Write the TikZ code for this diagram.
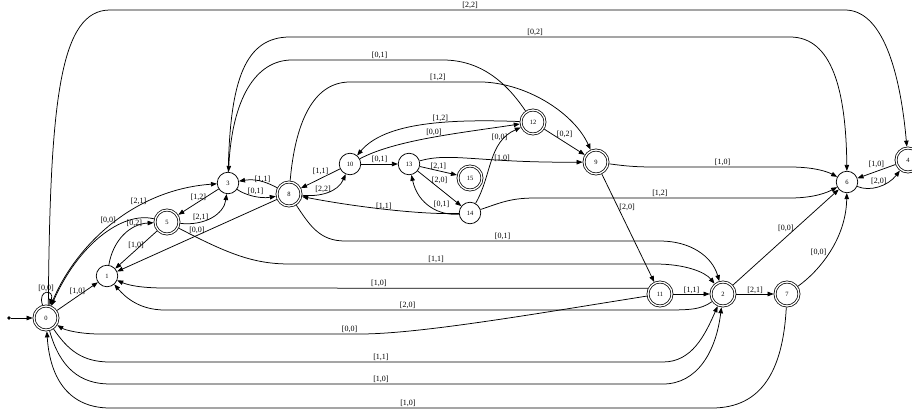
\documentclass[tikz,border=0pt]{standalone}
\usepackage{fontspec}
\setmainfont{Liberation Serif}
\usetikzlibrary{arrows.meta}
\tikzset{
  state/.style={draw,circle,minimum size=21.5pt,inner sep=0pt,
    line width=0.75pt,font=\fontsize{6.5}{7}\selectfont},
  accept/.style={state,minimum size=24pt,double,double distance=1.3pt,
    outer sep=1.4pt},
  edge/.style={-{Triangle[length=6pt,width=4.5pt]},line width=0.75pt},
  lab/.style={font=\fontsize{8}{9}\selectfont,inner sep=1pt},
}

\begin{document}
\begin{tikzpicture}[x=1pt,y=-1pt]
\useasboundingbox (0,0) rectangle (912,415);
\node[accept] (n0) at (46,318) {0};
\node[state] (n1) at (107,276) {1};
\node[accept] (n5) at (167,222) {5};
\node[state] (n3) at (228,183) {3};
\node[accept] (n8) at (289,194) {8};
\node[state] (n10) at (350,164) {10};
\node[state] (n13) at (409,164) {13};
\node[accept] (n15) at (470,178) {15};
\node[state] (n14) at (470,213) {14};
\node[accept] (n12) at (533,122) {12};
\node[accept] (n9) at (596,162) {9};
\node[state] (n6) at (847,182) {6};
\node[accept] (n4) at (908,160) {4};
\node[accept] (n11) at (660,294) {11};
\node[accept] (n2) at (723,294) {2};
\node[accept] (n7) at (787,294) {7};
\node[fill,circle,inner sep=1.3pt] (init) at (9,318) {};

\draw[edge] (init) -- (n0);
\draw[edge] (n0.105) .. controls (37,289) and (55,289) .. (n0.75)
  node[lab,pos=.5,above]{[0,0]};
\draw[edge] (n0) -- node[lab,above]{[1,0]} (n1);
\draw[edge] (n0) .. controls (72,250) and (130,190) .. (n3)
  node[lab,pos=.66,above]{[2,1]};
\draw[edge] (n5) .. controls (122,211) and (78,245) .. (n0)
  node[lab,pos=.35,above left=0pt]{[0,0]};
\draw[edge] (n1) .. controls (113,240) and (130,224) .. (n5)
  node[lab,pos=.7,above]{[0,2]};
\draw[edge] (n5) -- node[lab,above]{[1,0]} (n1);
\draw[edge] (n3) -- node[lab,above]{[1,2]} (n5);
\draw[edge] (n5) .. controls (205,226) and (224,214) .. (n3)
  node[lab,pos=.3,above]{[2,1]};
\draw[edge] (n8) -- node[lab,above]{[0,0]} (n1);
\draw[edge] (n5) .. controls (230,255) and (255,264) .. (290,264)
  -- node[lab,pos=.4,above]{[1,1]} (655,264)
  .. controls (685,264) and (705,272) .. (n2);
\draw[edge] (n8) .. controls (310,226) and (320,241) .. (345,241)
  -- node[lab,pos=.5,above]{[0,1]} (660,241)
  .. controls (690,241) and (712,256) .. (n2);
\draw[edge] (n8) .. controls (270,184) and (258,178) .. (n3)
  node[lab,pos=.5,above=-2pt]{[1,1]};
\draw[edge] (n3) .. controls (245,195) and (260,199) .. (n8)
  node[lab,pos=.55,above]{[0,1]};
\draw[edge] (n10) -- node[lab,above=2pt]{[1,1]} (n8);
\draw[edge] (n8) .. controls (320,197) and (338,192) .. (n10)
  node[lab,pos=.4,above]{[2,2]};
\draw[edge] (n10) -- node[lab,above]{[0,1]} (n13);
\draw[edge] (n13) -- node[lab,above]{[2,1]} (n15);
\draw[edge] (n13) -- node[lab,above=3pt]{[2,0]} (n14);
\draw[edge] (n14) .. controls (440,216) and (418,205) .. (n13)
  node[lab,pos=.3,above=3pt]{[0,1]};
\draw[edge] (n14) .. controls (420,215) and (350,206) .. (n8)
  node[lab,pos=.5,above=-2pt]{[1,1]};
\draw[edge] (n12) .. controls (450,119) and (385,122) .. (n10)
  node[lab,pos=.4,above]{[1,2]};
\draw[edge] (n10) .. controls (395,140) and (460,133) .. (n12)
  node[lab,pos=.52,above]{[0,0]};
\draw[edge] (n14) .. controls (492,175) and (488,142) .. (n12)
  node[lab,pos=.7,above=3pt]{[0,0]};
\draw[edge] (n12) -- node[lab,above=3pt]{[0,2]} (n9);
\draw[edge] (n13) .. controls (450,152) and (480,163) .. (n9)
  node[lab,pos=.67,above=-3pt]{[1,0]};
\draw[edge] (n8) .. controls (295,125) and (312,82) .. (350,82)
  -- node[lab,pos=.66,above]{[1,2]} (483,82)
  .. controls (530,84) and (575,115) .. (n9);
\draw[edge] (n12) .. controls (510,88) and (485,60) .. (443,60)
  -- node[lab,pos=.42,above]{[0,1]} (292,60)
  .. controls (255,60) and (232,100) .. (n3);
\draw[edge] (n3) .. controls (230,80) and (245,37) .. (290,37)
  -- node[lab,pos=.49,above]{[0,2]} (790,37)
  .. controls (832,37) and (846,90) .. (n6);
\draw[edge] (n0.80) .. controls (50,100) and (60,10) .. (110,10)
  -- node[lab,pos=.49,above]{[2,2]} (845,10)
  .. controls (882,10) and (900,70) .. (n4);
\draw[edge] (n9) .. controls (625,166) and (635,167) .. (655,167)
  -- node[lab,pos=.5,above]{[1,0]} (790,167)
  .. controls (815,167) and (828,172) .. (n6);
\draw[edge] (n14) .. controls (500,203) and (510,198) .. (535,198)
  -- node[lab,pos=.49,above]{[1,2]} (790,198)
  .. controls (815,198) and (828,192) .. (n6);
\draw[edge] (n9) -- node[lab,pos=.31,right]{[2,0]} (n11);
\draw[edge] (n11.155) -- node[lab,pos=.557,above]{[1,0]} (165,288)
  .. controls (140,288) and (128,285) .. (n1);
\draw[edge] (n2) .. controls (700,310) and (690,310) .. (660,310)
  -- node[lab,pos=.51,above]{[2,0]} (165,310)
  .. controls (140,310) and (126,298) .. (n1);
\draw[edge] (n11) .. controls (540,313) and (420,334) .. (360,334)
  -- node[lab,pos=.04,above]{[0,0]} (100,334)
  .. controls (80,334) and (65,330) .. (n0);
\draw[edge] (n0) .. controls (68,350) and (82,362) .. (110,362)
  -- node[lab,pos=.49,above]{[1,1]} (663,362)
  .. controls (692,362) and (705,335) .. (n2);
\draw[edge] (n0) .. controls (60,368) and (80,384) .. (110,384)
  -- node[lab,pos=.49,above]{[1,0]} (663,384)
  .. controls (697,384) and (716,352) .. (n2);
\draw[edge] (n7) .. controls (783,370) and (762,408) .. (712,408)
  -- node[lab,pos=.505,above]{[1,0]} (110,408)
  .. controls (70,408) and (50,380) .. (n0);
\draw[edge] (n11) -- node[lab,above=-1pt]{[1,1]} (n2);
\draw[edge] (n2) -- node[lab,above=-1pt]{[2,1]} (n7);
\draw[edge] (n2) -- node[lab,above=4pt]{[0,0]} (n6);
\draw[edge] (n7) .. controls (818,272) and (846,240) .. (n6)
  node[lab,pos=.5,left=2pt]{[0,0]};
\draw[edge] (n4) -- node[lab,above=2pt]{[1,0]} (n6);
\draw[edge] (n6) .. controls (870,192) and (888,186) .. (n4)
  node[lab,pos=.5,above]{[2,0]};
\end{tikzpicture}
\end{document}
